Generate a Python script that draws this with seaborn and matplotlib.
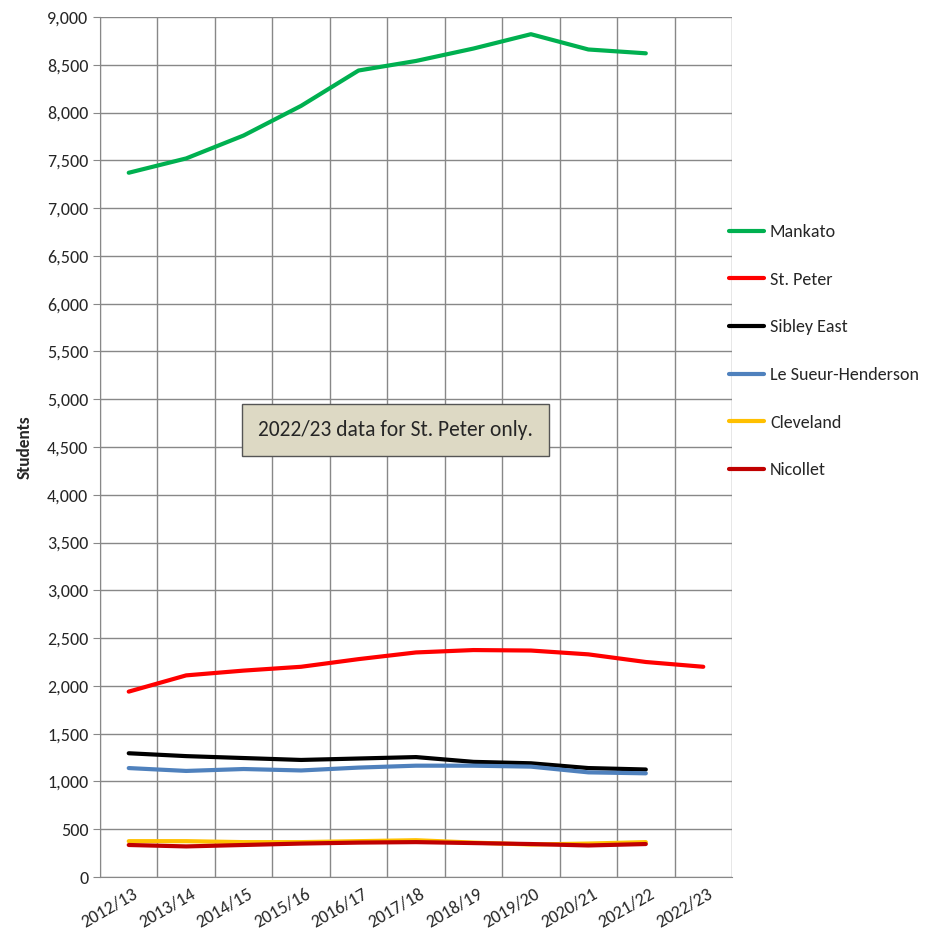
import numpy as np
import pandas as pd
import matplotlib.pyplot as plt
import seaborn as sns

years = ["2012/13", "2013/14", "2014/15", "2015/16", "2016/17", "2017/18",
         "2018/19", "2019/20", "2020/21", "2021/22", "2022/23"]
mankato = [7370, 7520, 7760, 8070, 8440, 8540, 8670, 8820, 8660, 8620]
st_peter = [1940, 2110, 2160, 2200, 2280, 2350, 2375, 2370, 2330, 2250, 2200]
sibley_east = [1295, 1265, 1245, 1225, 1240, 1255, 1205, 1190, 1140, 1125]
le_sueur = [1140, 1110, 1130, 1115, 1145, 1165, 1165, 1155, 1095, 1085]
cleveland = [375, 375, 365, 365, 375, 385, 360, 340, 350, 365]
nicollet = [335, 320, 335, 350, 360, 365, 355, 345, 330, 345]

series = {
    "Mankato": (mankato, "#00b050"),
    "St. Peter": (st_peter, "#ff0000"),
    "Sibley East": (sibley_east, "#000000"),
    "Le Sueur-Henderson": (le_sueur, "#4f81bd"),
    "Cleveland": (cleveland, "#ffc000"),
    "Nicollet": (nicollet, "#c00000"),
}

rows = []
for name, (vals, _) in series.items():
    for i, v in enumerate(vals):
        rows.append({"District": name, "Year": i, "Students": v})
df = pd.DataFrame(rows)

sns.set_style("white")
plt.rcParams['font.family'] = ['Carlito', 'Lato', 'DejaVu Sans']

fig = plt.figure(figsize=(9.36, 9.46), dpi=100)
ax = fig.add_axes([100/936, 69/946, 632/936, 860/946])

palette = {k: c for k, (_, c) in series.items()}
sns.lineplot(data=df, x="Year", y="Students", hue="District", palette=palette,
             linewidth=3, ax=ax, legend=True)

ax.set_xlim(-0.5, len(years) - 0.5)
ax.set_ylim(0, 9000)
ax.set_yticks(np.arange(0, 9001, 500))
ax.set_yticklabels([f"{v:,}" for v in range(0, 9001, 500)], fontsize=13)
ax.set_xticks(np.arange(len(years)) + 0.2)
ax.set_xticklabels(years, rotation=30, ha="right", fontsize=13)
ax.set_xticks(np.arange(-0.5, len(years)), minor=True)
ax.tick_params(axis="x", which="major", length=0, pad=6)
ax.tick_params(axis="x", which="minor", length=5, color="#888888")
ax.tick_params(axis="y", length=5, color="#888888", left=True)
ax.grid(axis="y", color="#888888", linewidth=1)
ax.grid(axis="x", which="minor", color="#888888", linewidth=1)
for s in ["top", "right"]:
    ax.spines[s].set_visible(False)
for s in ["left", "bottom"]:
    ax.spines[s].set_color("#888888")
ax.set_xlabel("")
ax.set_ylabel("Students", fontsize=12.5, fontweight="bold", labelpad=10)

ax.legend(loc="upper left", bbox_to_anchor=(0.97, 0.778), frameon=False,
          fontsize=13, labelspacing=1.75, handlelength=1.9, handletextpad=0.35,
          title=None)

ax.text(4.65, 4680, "2022/23 data for St. Peter only.", fontsize=15.5,
        ha="center", va="center",
        bbox=dict(boxstyle="square,pad=0.75", facecolor="#ddd9c4", edgecolor="#555555"))

fig.savefig("out.png", dpi=100)
